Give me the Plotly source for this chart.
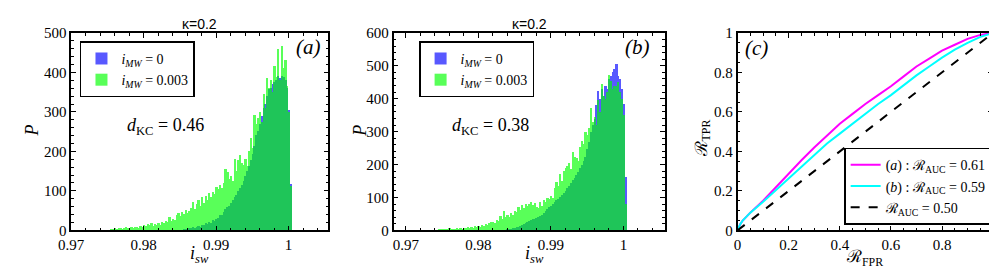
import numpy as np
import plotly.graph_objects as go

# ---------------- data ----------------
bin_width = 0.00025

a_green_first = 0.975625
a_green = [4, 3, 6, 2, 5, 7, 4, 6, 8, 5, 7, 9, 6, 8, 10, 7, 12, 9,
           14, 11, 16, 13, 18, 12, 17, 15, 20, 14,
           22, 18, 25, 21, 35, 24, 30, 27,
           38, 44, 36, 48, 42, 52, 45, 50,
           58, 72, 54, 66, 78, 62, 85, 70,
           88, 76, 95, 84, 98, 92,
           110, 104, 114, 108,
           120, 155, 148,
           131, 138, 126,
           182, 150, 179, 190, 172, 165, 181, 162, 200, 233, 210,
           293, 269, 285, 300, 275, 345, 310, 385, 360, 381, 350,
           417, 388, 460, 381, 467, 412, 432, 365, 300, 112]

a_blue_first = 0.985625
a_blue = [2, 4, 3, 6, 5, 8, 7, 10,
          12, 10, 15, 14, 18, 17, 22, 20, 26, 25,
          28, 32, 38, 40,
          47, 55, 60, 63,
          70, 78, 84, 90,
          100, 108, 114, 125,
          138, 150, 162, 178,
          194, 215, 241, 253,
          270, 290, 309, 320,
          340, 357, 362, 370,
          375, 380, 392, 385,
          392, 388, 380, 360,
          305, 118]

b_green_first = 0.9745
b_green = [3, 4, 2, 5, 3, 4, 6, 3, 5, 4, 6, 5, 7, 5,
           8, 6, 10, 7, 12, 9, 14, 11,
           15, 12, 18, 14, 20, 16, 22, 25,
           27, 24, 33, 29, 45, 35, 58, 40,
           48, 42, 52, 46, 60, 55, 70, 62,
           78, 68, 80, 74, 81, 85, 76, 82,
           70, 67, 88, 75,
           92, 88, 98, 95,
           105, 100,
           129, 148, 135,
           173, 150,
           181, 191,
           196, 205, 188,
           239, 224, 220, 212,
           253, 273, 262,
           300, 290, 310,
           372, 330,
           345, 320, 395, 360,
           444, 410, 400, 420,
           473, 455, 430, 440,
           440, 450, 420, 400,
           350, 80]

b_blue_first = 0.984
b_blue = [3, 5, 4, 7, 8, 10, 12, 15, 17, 20,
          24, 26, 29, 31, 34, 36, 39, 41,
          43, 48, 54, 58, 64, 70, 75, 81,
          86, 92, 97, 103, 108, 114, 119,
          128, 136, 145, 152, 160, 168, 177,
          190, 200, 212, 224, 248, 270,
          300, 320, 340, 380, 425, 400,
          430, 410, 440, 430,
          460, 470, 480, 490,
          505, 470, 460, 430,
          385, 162]

roc_fpr = [0, 0.01, 0.02, 0.05, 0.1, 0.15, 0.2, 0.25, 0.3, 0.35, 0.4, 0.45,
           0.5, 0.55, 0.6, 0.65, 0.7, 0.75, 0.8, 0.85, 0.9, 0.95, 1.0]
roc_tpr_a = [0, 0.03, 0.05, 0.09, 0.15, 0.22, 0.29, 0.355, 0.42, 0.48, 0.54, 0.59,
             0.64, 0.685, 0.73, 0.78, 0.83, 0.87, 0.91, 0.94, 0.97, 0.99, 1.0]
roc_tpr_b = [0, 0.03, 0.05, 0.09, 0.145, 0.205, 0.265, 0.325, 0.385, 0.44, 0.49, 0.54,
             0.59, 0.64, 0.685, 0.735, 0.785, 0.83, 0.875, 0.915, 0.95, 0.98, 1.0]
diag_x = [0, 1]
diag_y = [0, 1]

hist_xticks = [0.97, 0.98, 0.99, 1.0]
hist_xticktext = ["0.97", "0.98", "0.99", "1"]
a_yticks = [0, 100, 200, 300, 400, 500]
b_yticks = [0, 100, 200, 300, 400, 500, 600]
roc_ticks = [0, 0.2, 0.4, 0.6, 0.8, 1.0]
roc_ticktext = ["0", "0.2", "0.4", "0.6", "0.8", "1"]


def centers(first, vals):
    return first + bin_width * np.arange(len(vals))


W, H = 997, 268
SERIF = "Liberation Serif, Times New Roman, serif"
SANS = "Liberation Sans, Arial, sans-serif"
BLUE = "rgb(0,0,255)"
GREEN = "rgb(0,255,0)"
OP = 0.65

fig = go.Figure()

fig.add_trace(go.Bar(x=centers(a_blue_first, a_blue), y=a_blue, width=bin_width,
                     marker=dict(color=BLUE, line=dict(width=0)), opacity=OP,
                     name="<i>i<sub>MW</sub></i> = 0", xaxis="x", yaxis="y", legend="legend"))
fig.add_trace(go.Bar(x=centers(a_green_first, a_green), y=a_green, width=bin_width,
                     marker=dict(color=GREEN, line=dict(width=0)), opacity=OP,
                     name="<i>i<sub>MW</sub></i> = 0.003", xaxis="x", yaxis="y", legend="legend"))
fig.add_trace(go.Bar(x=centers(b_blue_first, b_blue), y=b_blue, width=bin_width,
                     marker=dict(color=BLUE, line=dict(width=0)), opacity=OP,
                     name="<i>i<sub>MW</sub></i> = 0", xaxis="x2", yaxis="y2", legend="legend2"))
fig.add_trace(go.Bar(x=centers(b_green_first, b_green), y=b_green, width=bin_width,
                     marker=dict(color=GREEN, line=dict(width=0)), opacity=OP,
                     name="<i>i<sub>MW</sub></i> = 0.003", xaxis="x2", yaxis="y2", legend="legend2"))

fig.add_trace(go.Scatter(x=roc_fpr, y=roc_tpr_a, mode="lines",
                         line=dict(color="magenta", width=2),
                         name="(<i>a</i>) : ℛ<sub>AUC</sub> = 0.61",
                         xaxis="x3", yaxis="y3", legend="legend3"))
fig.add_trace(go.Scatter(x=roc_fpr, y=roc_tpr_b, mode="lines",
                         line=dict(color="cyan", width=2),
                         name="(<i>b</i>) : ℛ<sub>AUC</sub> = 0.59",
                         xaxis="x3", yaxis="y3", legend="legend3"))
fig.add_trace(go.Scatter(x=diag_x, y=diag_y, mode="lines",
                         line=dict(color="black", width=2, dash="dash"),
                         name="ℛ<sub>AUC</sub> = 0.50",
                         xaxis="x3", yaxis="y3", legend="legend3"))

ydom = [(H - 228) / H, (H - 18) / H]


def axstyle(**kw):
    d = dict(showline=True, linecolor="black", linewidth=1.5, mirror="ticks",
             ticks="inside", ticklen=5, tickwidth=1.2, tickcolor="black",
             showgrid=False, zeroline=False, ticklabeloverflow="allow",
             tickfont=dict(family=SERIF, size=15, color="black"))
    d.update(kw)
    return d


minor_hist_x = dict(dtick=0.002, ticks="inside", ticklen=3, tickcolor="black", tickwidth=1)
minor_hist_y = dict(dtick=20, ticks="inside", ticklen=3, tickcolor="black", tickwidth=1)
minor_roc = dict(dtick=0.05, ticks="inside", ticklen=3, tickcolor="black", tickwidth=1)

leg_common = dict(bordercolor="black", borderwidth=1.5, bgcolor="white",
                  font=dict(family=SERIF, size=14, color="black"),
                  tracegroupgap=0)

fig.update_layout(
    width=W, height=H,
    margin=dict(l=0, r=0, t=0, b=0),
    paper_bgcolor="white", plot_bgcolor="white",
    barmode="overlay", bargap=0,
    xaxis=axstyle(domain=[51 / W, 312.7 / W], range=[0.97, 1.0055], anchor="y",
                  tickvals=hist_xticks, ticktext=hist_xticktext, minor=minor_hist_x),
    yaxis=axstyle(domain=ydom, range=[0, 500], anchor="x", tickvals=a_yticks,
                  minor=minor_hist_y),
    xaxis2=axstyle(domain=[379 / W, 655 / W], range=[0.9683, 1.0057], anchor="y2",
                   tickvals=hist_xticks, ticktext=hist_xticktext, minor=minor_hist_x),
    yaxis2=axstyle(domain=ydom, range=[0, 600], anchor="x2", tickvals=b_yticks,
                   minor=minor_hist_y),
    xaxis3=axstyle(domain=[729 / W, 989 / W], range=[0, 1], anchor="y3",
                   tickvals=roc_ticks, ticktext=roc_ticktext, minor=minor_roc),
    yaxis3=axstyle(domain=ydom, range=[0, 1], anchor="x3",
                   tickvals=roc_ticks, ticktext=roc_ticktext, minor=minor_roc),
    legend=dict(leg_common, x=60 / W, y=(H - 27) / H, xanchor="left", yanchor="top"),
    legend2=dict(leg_common, x=405 / W, y=(H - 27) / H, xanchor="left", yanchor="top"),
    legend3=dict(leg_common, x=988 / W, y=(H - 222) / H, xanchor="right", yanchor="bottom",
                 font=dict(family=SERIF, size=14, color="black")),
    showlegend=True,
)


def ann(text, px, py, size=14, family=SERIF, angle=0):
    fig.add_annotation(text=text, x=px / W, y=1 - py / H, xref="paper", yref="paper",
                       showarrow=False, textangle=angle,
                       font=dict(family=family, size=size, color="black"),
                       xanchor="center", yanchor="middle")


ann("κ=0.2", 182, 8, size=14, family=SANS)
ann("κ=0.2", 517, 8, size=14, family=SANS)
ann("<i>(a)</i>", 292, 33, size=21)
ann("<i>(b)</i>", 627, 33, size=21)
ann("<i>(c)</i>", 748, 34, size=21)
ann("<i>d</i><sub>KC</sub> = 0.46", 147, 118, size=18)
ann("<i>d</i><sub>KC</sub> = 0.38", 478, 118, size=18)
ann("<i>i<sub>sw</sub></i>", 182, 254, size=18)
ann("<i>i<sub>sw</sub></i>", 522, 254, size=18)
ann("ℛ<sub>FPR</sub>", 858, 257, size=17)
ann("<i>P</i>", 11, 122, size=18, angle=-90)
ann("<i>P</i>", 345, 122, size=18, angle=-90)
ann("ℛ<sub>TPR</sub>", 694, 130, size=17, angle=-90)

fig.write_html("out.html")
